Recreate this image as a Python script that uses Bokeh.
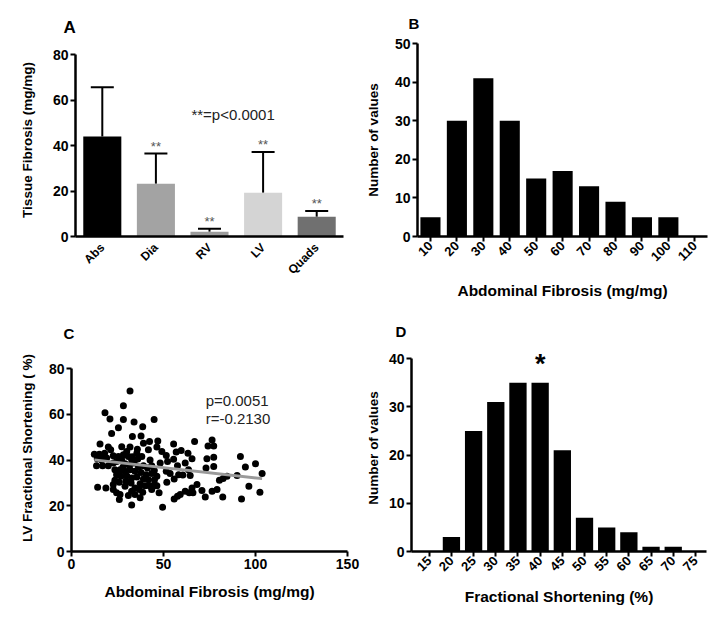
import math
from bokeh.plotting import figure
from bokeh.layouts import column, row
from bokeh.models import Range1d, FactorRange, ColumnDataSource, Label, FixedTicker, Whisker, TeeHead
from bokeh.embed import file_html
from bokeh.resources import INLINE
from bokeh.core.properties import value

FONT = "Liberation Sans"

# ---------------- data ----------------
# Panel A
tissues = ["Abs", "Dia", "RV", "LV", "Quads"]
fibrosis_mean = [44.0, 23.2, 2.1, 19.3, 8.7]
fibrosis_upper = [65.7, 36.5, 3.4, 37.2, 11.2]
tissue_colors = ["#000000", "#a3a3a3", "#9c9c9c", "#d4d4d4", "#707070"]
sig_marks = ["", "**", "**", "**", "**"]

# Panel B
abd_bins = [10, 20, 30, 40, 50, 60, 70, 80, 90, 100, 110]
abd_counts = [5, 30, 41, 30, 15, 17, 13, 9, 5, 5, 0]

# Panel C
abd_fibrosis = [
    31.8, 28.2, 18.2, 20.9, 28.2, 34.0, 44.9, 25.5, 38.7, 21.8,
    33.1, 37.8, 39.1, 42.4, 46.9, 46.4, 31.8, 35.8, 15.5, 20.0,
    55.5, 66.9, 76.4, 77.3, 74.2, 56.9, 59.6, 63.3, 49.1, 51.5,
    65.5, 73.6, 77.3, 91.8, 100.0, 94.5, 103.6, 90.0, 84.5, 82.4,
    80.4, 73.1, 77.3, 57.6, 61.8, 63.6, 64.5, 58.2, 51.5, 53.6,
    51.8, 55.8, 68.2, 65.5, 66.0, 70.9, 61.8, 59.1, 55.8, 57.6,
    64.0, 79.1, 82.2, 92.4, 96.4, 102.4, 47.6, 49.5, 32.7, 26.0,
    24.5, 14.2, 18.7, 22.7, 37.3, 38.7, 36.9, 32.7, 42.4, 45.1,
    12.4, 15.1, 17.3, 14.0, 16.4, 19.1, 22.7, 25.5, 28.2, 30.9,
    32.7, 13.6, 16.9, 20.0, 22.7, 24.5, 27.3, 29.1, 31.5, 34.0,
    36.4, 39.1, 41.3, 43.6, 23.6, 26.4, 29.1, 31.8, 34.5, 37.8,
    40.5, 43.6, 46.4, 24.5, 26.9, 30.0, 32.7, 35.5, 39.1, 41.8,
    45.1, 23.6, 26.0, 29.6, 32.4, 37.3, 40.0, 46.4, 22.7, 29.1,
    34.5, 41.8, 35.5, 38.2, 42.7, 48.2, 21.3, 27.3, 30.0, 52.2,
    55.5, 72.7, 76.4, 43.6, 26.4, 30.9, 34.5, 28.0, 33.0, 36.0,
    18.0, 45.0, 60.5,
]
lv_fs = [
    70.3, 63.8, 60.7, 58.0, 57.8, 56.7, 57.8, 54.2, 54.6, 51.7,
    50.3, 50.6, 47.4, 48.1, 48.4, 45.7, 45.7, 44.8, 47.1, 45.7,
    47.1, 48.1, 48.8, 46.2, 46.2, 43.5, 44.2, 43.0, 43.8, 42.0,
    40.6, 40.6, 41.2, 41.6, 38.4, 37.0, 34.1, 33.3, 32.9, 31.9,
    31.2, 36.5, 37.2, 37.5, 38.7, 35.8, 33.3, 33.6, 35.1, 34.1,
    30.3, 31.7, 29.3, 27.8, 25.7, 26.7, 26.4, 24.9, 23.0, 24.2,
    25.7, 27.1, 23.9, 23.0, 28.6, 25.9, 25.7, 19.4, 20.3, 22.8,
    25.7, 28.1, 27.8, 27.1, 23.5, 25.9, 27.1, 26.4, 28.8, 29.3,
    42.6, 42.6, 41.6, 40.6, 40.1, 40.9, 41.9, 41.6, 42.3, 41.6,
    40.1, 37.5, 37.5, 37.5, 38.7, 39.4, 40.1, 38.4, 37.5, 38.7,
    37.0, 37.5, 36.5, 37.5, 35.8, 35.8, 35.1, 35.8, 35.1, 34.6,
    33.6, 34.1, 32.9, 33.6, 32.9, 33.2, 32.2, 32.6, 31.7, 31.4,
    31.4, 31.2, 30.3, 30.7, 30.0, 29.7, 28.8, 28.8, 29.3, 28.6,
    27.8, 44.5, 43.0, 41.6, 40.1, 38.7, 44.5, 45.9, 43.8, 39.4,
    40.4, 23.9, 26.4, 27.1, 24.9, 24.5, 24.9, 37.0, 41.5, 40.5,
    43.0, 35.5, 33.5,
]
fit_x = [12.4, 103.6]
fit_y = [40.1, 31.9]
stats_text = ["p=0.0051", "r=-0.2130"]

# Panel D
fs_bins = [15, 20, 25, 30, 35, 40, 45, 50, 55, 60, 65, 70, 75]
fs_counts = [0, 3, 25, 31, 35, 35, 21, 7, 5, 4, 1, 1, 0]


def style(p, xticks=True):
    p.outline_line_color = None
    p.grid.visible = False
    p.background_fill_color = "white"
    p.border_fill_color = "white"
    for ax in p.axis:
        ax.axis_line_width = 2.5
        ax.axis_line_color = "black"
        ax.major_tick_line_width = 2
        ax.major_tick_line_color = "black"
        ax.major_tick_out = 5
        ax.major_tick_in = 0
        ax.minor_tick_line_color = None
        ax.major_label_text_font = FONT
        ax.major_label_text_font_style = "bold"
        ax.major_label_text_color = "black"
        ax.major_label_standoff = 2
        ax.axis_label_text_font = FONT
        ax.axis_label_text_font_style = "bold"
        ax.axis_label_text_color = "black"
    p.xaxis.axis_label_text_font_size = "15.5px"
    p.yaxis.axis_label_text_font_size = "13.5px"
    if not xticks:
        p.xaxis.major_tick_line_color = None


def letter(p, txt, offset, standoff, size="15px"):
    p.title.text = txt
    p.title.align = "left"
    p.title.vertical_align = "middle"
    p.title.offset = offset
    p.title.standoff = standoff
    p.title.text_font = FONT
    p.title.text_font_style = "bold"
    p.title.text_font_size = size
    p.title.text_color = "black"


# ---------------- Panel A ----------------
pA = figure(x_range=FactorRange(*tissues), y_range=Range1d(0, 85.0),
            width=362, height=302, min_border_left=75, min_border_right=19,
            min_border_top=43, min_border_bottom=62,
            output_backend="svg", toolbar_location=None)
srcA = ColumnDataSource(dict(t=tissues, m=fibrosis_mean, u=fibrosis_upper,
                             c=tissue_colors, s=sig_marks))
pA.vbar(x="t", top="m", width=0.71, fill_color="c", line_color=None, source=srcA)
pA.add_layout(Whisker(base="t", lower="m", upper="u", source=srcA,
                      line_color="black", line_width=2,
                      upper_head=TeeHead(size=23, line_width=2, line_color="black"),
                      lower_head=None))
pA.text(x="t", y="u", text="s", source=srcA, y_offset=0, text_align="center",
        text_baseline="bottom", text_font=value(FONT), text_font_size="13px",
        text_color="#555555")
pA.add_layout(Label(x=2.94, y=53.7, text="**=p<0.0001", text_align="center",
                    text_baseline="middle", text_font=FONT, text_font_size="15px",
                    text_color="#222222"))
pA.yaxis.ticker = FixedTicker(ticks=[0, 20, 40, 60, 80])
pA.yaxis.bounds = (0, 80)
pA.yaxis.axis_label = "Tissue Fibrosis (mg/mg)"
style(pA, xticks=False)
pA.xaxis.major_label_orientation = math.pi / 4
pA.xaxis.major_label_text_font_size = "12px"
pA.xaxis.major_label_standoff = 4
pA.yaxis.major_label_text_font_size = "14px"
pA.yaxis.axis_label_standoff = 15
letter(pA, "A", -12, 12, "17px")

# ---------------- Panel B ----------------
pB = figure(x_range=Range1d(5.1, 114.8), y_range=Range1d(0, 50),
            width=354, height=302, min_border_left=48, min_border_right=9,
            min_border_top=43, min_border_bottom=62,
            output_backend="svg", toolbar_location=None)
pB.vbar(x=abd_bins, top=abd_counts, width=7.6, fill_color="black", line_color=None)
pB.xaxis.ticker = FixedTicker(ticks=abd_bins)
pB.yaxis.ticker = FixedTicker(ticks=[0, 10, 20, 30, 40, 50])
pB.xaxis.axis_label = "Abdominal Fibrosis (mg/mg)"
pB.yaxis.axis_label = "Number of values"
style(pB)
pB.xaxis.major_label_orientation = math.pi / 4
pB.xaxis.major_label_text_font_size = "13px"
pB.yaxis.major_label_text_font_size = "14px"
pB.xaxis.axis_label_standoff = 14
pB.yaxis.axis_label_standoff = 11
letter(pB, "B", -9, 21)

# ---------------- Panel C ----------------
pC = figure(x_range=Range1d(0, 150), y_range=Range1d(0, 90.6),
            width=362, height=306, min_border_left=71, min_border_right=15,
            min_border_top=42, min_border_bottom=56,
            output_backend="svg", toolbar_location=None)
pC.scatter(x=abd_fibrosis, y=lv_fs, size=7, fill_color="black", line_color=None)
pC.line(x=fit_x, y=fit_y, line_color="#9a9a9a", line_width=3)
pC.text(x=[72.9, 72.9], y=[65.9, 58.0], text=stats_text, text_align="left",
        text_baseline="middle", text_font=value(FONT), text_font_size="15px",
        text_color="#222222")
pC.xaxis.ticker = FixedTicker(ticks=[0, 50, 100, 150])
pC.yaxis.ticker = FixedTicker(ticks=[0, 20, 40, 60, 80])
pC.yaxis.bounds = (0, 80)
pC.xaxis.axis_label = "Abdominal Fibrosis (mg/mg)"
pC.yaxis.axis_label = "LV Fractional Shortening ( %)"
style(pC)
pC.xaxis.major_label_text_font_size = "14px"
pC.yaxis.major_label_text_font_size = "14px"
pC.xaxis.axis_label_standoff = 11
pC.yaxis.axis_label_standoff = 11
letter(pC, "C", -8, 4)

# ---------------- Panel D ----------------
pD = figure(x_range=Range1d(11.0, 77.5), y_range=Range1d(0, 42.95),
            width=354, height=306, min_border_left=48, min_border_right=10,
            min_border_top=42, min_border_bottom=56,
            output_backend="svg", toolbar_location=None)
pD.vbar(x=fs_bins, top=fs_counts, width=3.9, fill_color="black", line_color=None)
pD.add_layout(Label(x=40, y=39.0, text="*", text_align="center", text_baseline="middle",
                    text_font=FONT, text_font_style="bold", text_font_size="27px",
                    text_color="black"))
pD.xaxis.ticker = FixedTicker(ticks=fs_bins)
pD.yaxis.ticker = FixedTicker(ticks=[0, 10, 20, 30, 40])
pD.yaxis.bounds = (0, 40)
pD.xaxis.axis_label = "Fractional Shortening (%)"
pD.yaxis.axis_label = "Number of values"
style(pD)
pD.xaxis.major_label_orientation = math.pi / 4
pD.xaxis.major_label_text_font_size = "13px"
pD.yaxis.major_label_text_font_size = "14px"
pD.xaxis.axis_label_standoff = 10
pD.yaxis.axis_label_standoff = 5
letter(pD, "D", -16, 7)

layout = column(row(pA, pB), row(pC, pD))
open("out.html", "w").write(file_html(layout, INLINE))
